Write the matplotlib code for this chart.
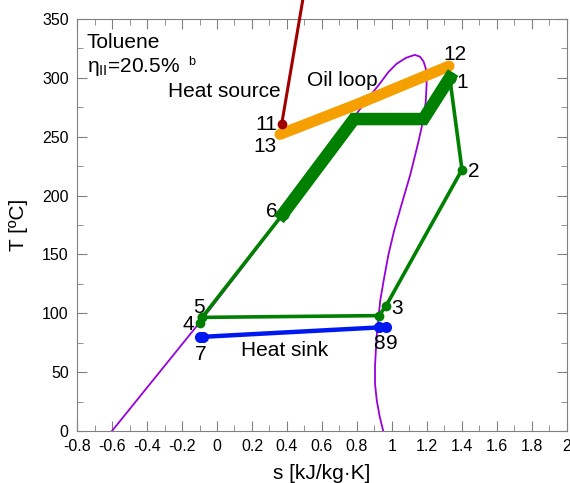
import matplotlib
matplotlib.use("Agg")
import matplotlib.pyplot as plt
from matplotlib.ticker import MultipleLocator, FormatStrFormatter

plt.rcParams["font.family"] = ["Liberation Sans", "DejaVu Sans"]
plt.rcParams["mathtext.fontset"] = "custom"
plt.rcParams["mathtext.rm"] = "Liberation Sans"
plt.rcParams["mathtext.it"] = "Liberation Sans:italic"

# saturation dome of toluene
dome_s = [-0.6, -0.35, -0.1, 0.15, 0.375, 0.6, 0.8, 0.865, 0.93, 0.98, 1.027, 1.08, 1.13, 1.16, 1.18, 1.193, 1.198,
          1.193, 1.18, 1.15, 1.105, 1.05, 1.012, 0.98, 0.955, 0.933, 0.924, 0.912, 0.903, 0.903, 0.913, 0.93, 0.95]
dome_T = [0, 46, 92, 140, 184, 229, 270, 283, 295, 305, 312, 317, 319.5, 318, 314, 308, 295,
          280, 265, 245, 218, 190, 170, 150, 130, 111, 98, 80, 55, 40, 26, 12, 0]

# ORC cycle (thin part: 1-2-3-3'-5-4 / 5-6), thick part: 6 - evaporation - 1
cyc_s = [1.33, 1.40, 0.965, 0.926, -0.085, -0.10]
cyc_T = [300, 222, 106, 98, 96.5, 92]
pre_s = [-0.085, 0.375]
pre_T = [96.5, 184]
evap_s = [0.375, 0.783, 1.18, 1.33]
evap_T = [184, 265, 265, 300]

# heat source, oil loop, heat sink
src_s = [0.37, 0.49]
src_T = [261, 366]
oil_s = [0.36, 0.80, 1.326]
oil_T = [252, 277.5, 310]
sink_s = [-0.10, -0.08, 0.928, 0.966]
sink_T = [80, 80, 88, 88]

green = "#008000"

fig = plt.figure(figsize=(5.70, 4.83), dpi=100)
ax = fig.add_axes([0.1351, 0.1077, 0.8596, 0.853])

ax.plot(dome_s, dome_T, color="#9900DD", lw=1.3, zorder=2)
ax.plot(oil_s, oil_T, color="#F5A000", lw=8, solid_capstyle="round", zorder=3)
ax.plot(src_s, src_T, color="#A00000", lw=2.2, clip_on=False, zorder=4)
ax.plot(src_s[:1], src_T[:1], "o", color="#A00000", ms=6, zorder=4)
ax.plot(cyc_s, cyc_T, "-o", color=green, lw=2.6, ms=6, zorder=4)
ax.plot(pre_s, pre_T, "-o", color=green, lw=2.6, ms=6, zorder=4)
ax.plot(evap_s, evap_T, "-", color=green, lw=9, solid_joinstyle="miter", zorder=4)
ax.plot(evap_s[::3], evap_T[::3], "o", color=green, ms=8, zorder=5)
ax.plot(sink_s, sink_T, "-o", color="#0018F0", lw=3.2, ms=7, zorder=4)

fs = 15
ax.text(-0.745, 325, "Toluene", fontsize=fs)
ax.text(-0.745, 305, r"$\mathregular{\eta_{II}}$=20.5%", fontsize=fs)
ax.text(-0.165, 311, "b", fontsize=9)
ax.text(-0.28, 284, "Heat source", fontsize=fs)
ax.text(0.516, 293, "Oil loop", fontsize=fs)
ax.text(0.137, 63.5, "Heat sink", fontsize=fs)

labels = ["11", "13", "12", "1", "2", "6", "3", "8", "9", "5", "4", "7"]
lab_s = [0.342, 0.342, 1.293, 1.366, 1.436, 0.345, 0.998, 0.89, 0.966, -0.139, -0.196, -0.129]
lab_T = [255.5, 237, 315.5, 291.5, 216, 182, 99, 69.5, 69.5, 100, 86, 60]
lab_ha = ["right", "right", "left", "left", "left", "right", "left", "left", "left", "left", "left", "left"]
for t, x, y, h in zip(labels, lab_s, lab_T, lab_ha):
    ax.text(x, y, t, fontsize=fs, ha=h)

ax.set_xlim(-0.8, 2)
ax.set_ylim(0, 350)
ax.xaxis.set_major_locator(MultipleLocator(0.2))
ax.xaxis.set_minor_locator(MultipleLocator(0.1))
ax.xaxis.set_major_formatter(FormatStrFormatter("%g"))
ax.yaxis.set_major_locator(MultipleLocator(50))
ax.yaxis.set_minor_locator(MultipleLocator(25))
ax.tick_params(which="both", direction="in", top=True, right=True, color="#808080", labelsize=11.5)
ax.tick_params(which="major", length=7, pad=6)
ax.tick_params(which="minor", length=4)
for sp in ax.spines.values():
    sp.set_color("#808080")

ax.set_xlabel("s [kJ/kg·K]", fontsize=fs, labelpad=7)
ax.set_ylabel("T [ºC]", fontsize=fs, labelpad=10)

fig.savefig("out.png", dpi=100)
